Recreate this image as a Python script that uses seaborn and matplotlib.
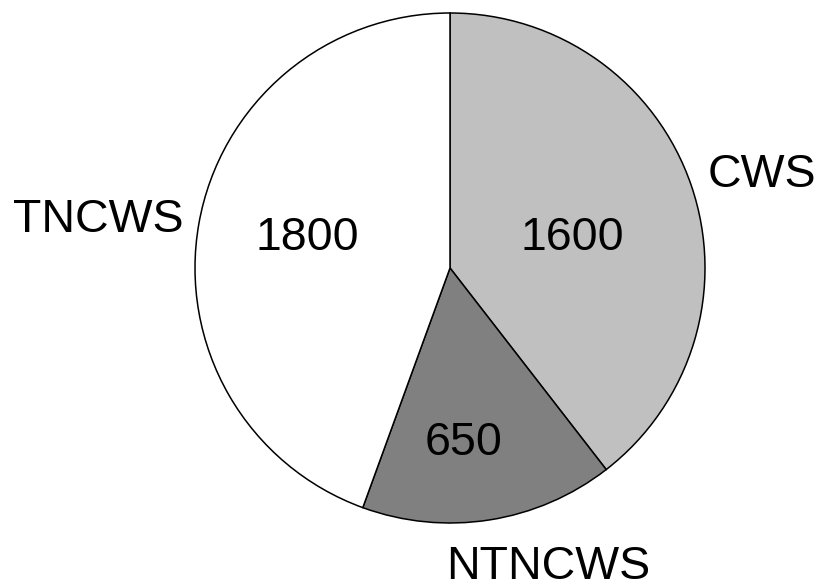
import matplotlib
matplotlib.use("Agg")
import matplotlib.pyplot as plt
import seaborn as sns

sns.set_theme(style="white")
plt.rcParams['font.family'] = ['Liberation Sans', 'DejaVu Sans']

categories = ["CWS", "NTNCWS", "TNCWS"]
values = [1600, 650, 1800]
colors = ["#c0c0c0", "#808080", "#ffffff"]

# label anchors at text baseline (data units, pie radius = 1)
name_pos = [(1.012, 0.318, "left"), (0.384, -1.220, "center"), (-1.047, 0.141, "right")]
value_pos = [(0.480, 0.071), (0.055, -0.733), (-0.559, 0.071)]

fig = plt.figure(figsize=(8.22, 5.84), dpi=100)
ax = fig.add_axes([0, 0, 1, 1])
ax.pie(values, colors=colors, startangle=90, counterclock=False, radius=1.0,
       wedgeprops=dict(edgecolor="black", linewidth=1.1))

for (x, y, ha), name in zip(name_pos, categories):
    ax.text(x, y, name, ha=ha, va="baseline", fontsize=33.5, color="black")
for (x, y), v in zip(value_pos, values):
    ax.text(x, y, str(v), ha="center", va="baseline", fontsize=33.5, color="black")

# pie centred at (450, 268) px with a 255 px radius
ax.set_xlim(-450 / 255, (822 - 450) / 255)
ax.set_ylim(-(584 - 268) / 255, 268 / 255)
ax.set_aspect("equal")
ax.axis("off")
fig.savefig("out.png", dpi=100, facecolor="white")
